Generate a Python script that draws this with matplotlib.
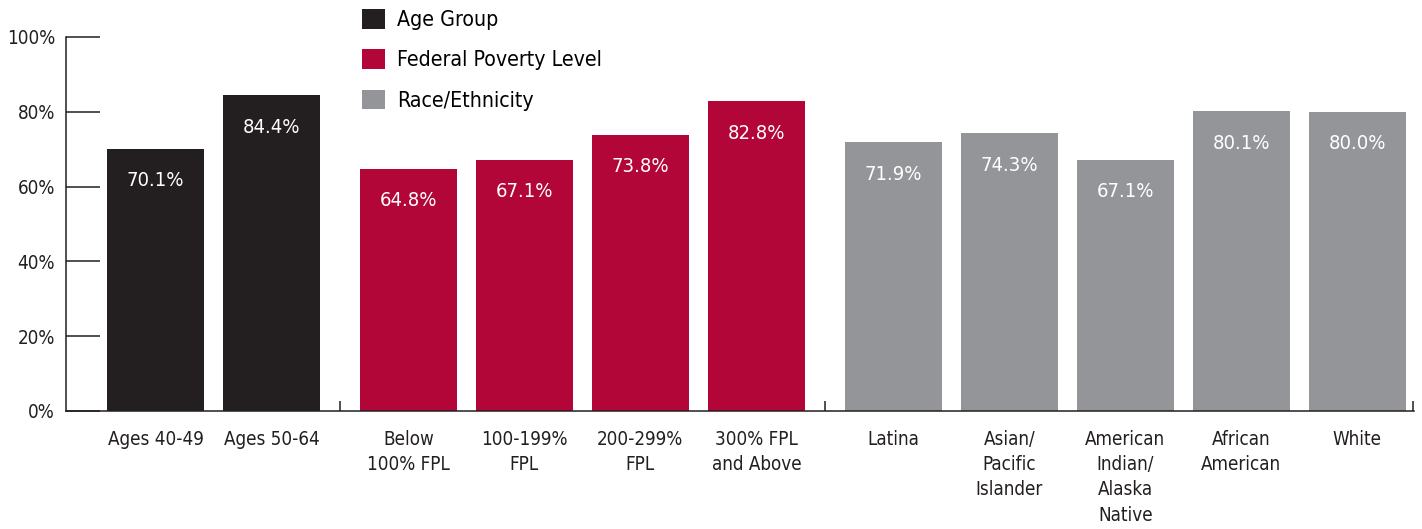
import matplotlib.pyplot as plt
from matplotlib import font_manager
from matplotlib.ticker import FixedLocator

# police étroite si disponible
etroite = None
for f in font_manager.fontManager.ttflist:
    if f.stretch in ("condensed", "semi-condensed") or \
            "Narrow" in f.name or "Condensed" in f.name:
        etroite = f
        break
if etroite is not None:
    plt.rcParams['font.family'] = [etroite.name, 'DejaVu Sans']
    plt.rcParams['font.stretch'] = etroite.stretch
else:
    plt.rcParams['font.family'] = ['DejaVu Sans']

# Données
groupes = ["Age Group", "Federal Poverty Level", "Race/Ethnicity"]
couleurs = ["#231f20", "#b20538", "#939598"]

cat_age = ["Ages 40-49", "Ages 50-64"]
val_age = [70.1, 84.4]

cat_fpl = ["Below\n100% FPL", "100-199%\nFPL", "200-299%\nFPL", "300% FPL\nand Above"]
val_fpl = [64.8, 67.1, 73.8, 82.8]

cat_race = ["Latina", "Asian/\nPacific\nIslander", "American\nIndian/\nAlaska\nNative",
            "African\nAmerican", "White"]
val_race = [71.9, 74.3, 67.1, 80.1, 80.0]

yticks = [0, 20, 40, 60, 80, 100]
ytick_labels = ["0%", "20%", "40%", "60%", "80%", "100%"]

fig = plt.figure(figsize=(14.22, 5.29), dpi=100)
ax = fig.add_axes([66/1422, 118/529, 1348/1422, 374/529])

ecart = 0.18      # espace supplémentaire entre les groupes
largeur = 0.836
x0 = 0.0
positions = []
separateurs = []
for g, (cats, vals, coul) in enumerate(zip([cat_age, cat_fpl, cat_race],
                                           [val_age, val_fpl, val_race], couleurs)):
    xs = [x0 + i for i in range(len(cats))]
    ax.bar(xs, vals, width=largeur, color=coul, label=groupes[g], zorder=2)
    for x, v in zip(xs, vals):
        ax.annotate(f"{v:.1f}%", (x, v), xytext=(0, -23), textcoords="offset points",
                    ha="center", va="center", color="white", fontsize=14.5)
    positions += xs
    x0 = xs[-1] + 1 + ecart
    separateurs.append(xs[-1] + (1 + ecart) / 2)

ax.set_xlim(-0.772, 10.85)
ax.set_ylim(0, 100)

ax.set_xticks(positions)
ax.set_xticklabels(cat_age + cat_fpl + cat_race, fontsize=13.5, linespacing=1.42,
                   color="#231f20", va="top")
ax.tick_params(axis="x", which="major", length=0, pad=13.5)
ax.xaxis.set_minor_locator(FixedLocator(separateurs[:2] + [10.84]))
ax.tick_params(axis="x", which="minor", direction="in", length=7.5, width=1.1,
               color="#231f20")

ax.set_yticks(yticks)
ax.set_yticklabels(ytick_labels, fontsize=13.5, color="#231f20")
ax.tick_params(axis="y", direction="in", length=24.5, width=1.1, color="#231f20", pad=8)

for cote in ["top", "right"]:
    ax.spines[cote].set_visible(False)
for cote in ["left", "bottom"]:
    ax.spines[cote].set_color("#231f20")
    ax.spines[cote].set_linewidth(1.1)

ax.legend(loc="upper left", bbox_to_anchor=(358/1422, 1 - 5/529),
          bbox_transform=fig.transFigure, frameon=False, fontsize=15.3,
          handlelength=1.08, handleheight=1.035, labelspacing=0.9,
          handletextpad=0.56, borderaxespad=0, borderpad=0.2)

plt.savefig("out.png")
